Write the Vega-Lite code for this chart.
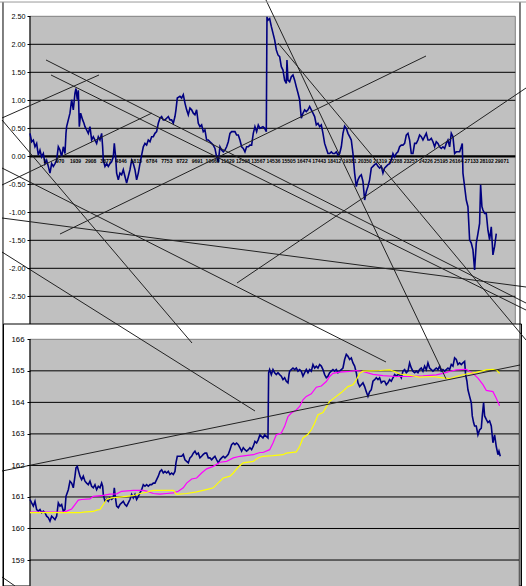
{
  "$schema": "https://vega.github.io/schema/vega-lite/v6.json",
  "width": 496,
  "height": 586,
  "autosize": {"type": "none"},
  "padding": {"left": 30, "top": 0, "right": 0, "bottom": 0},
  "background": "white",
  "config": {
    "view": {"stroke": null},
    "locale": {"number": {"decimal": ".", "thousands": ",", "grouping": [3], "currency": ["$", ""], "minus": "-"}},
    "axis": {"labelFont": "Liberation Sans"}
  },
  "datasets": {
    "top": [
{"i":1,"v":0.41},{"i":106,"v":0.26},{"i":212,"v":0.29},{"i":318,"v":0.17},{"i":424,"v":0.23},{"i":530,"v":0.02},{"i":636,"v":0.11},{"i":742,"v":-0.01},{"i":848,"v":0.05},{"i":954,"v":-0.13},{"i":1060,"v":-0.07},{"i":1166,"v":-0.18},{"i":1272,"v":-0.3},{"i":1378,"v":-0.13},{"i":1484,"v":-0.18},{"i":1590,"v":-0.13},{"i":1696,"v":-0.07},{"i":1802,"v":0.17},{"i":1908,"v":0.11},{"i":2014,"v":-0.01},{"i":2120,"v":0.17},{"i":2226,"v":0.05},{"i":2290,"v":0.41},{"i":2332,"v":0.53},{"i":2438,"v":0.65},{"i":2544,"v":0.77},{"i":2650,"v":1.01},{"i":2756,"v":0.83},{"i":2862,"v":1.13},{"i":2926,"v":1.21},{"i":3010,"v":1.01},{"i":3074,"v":1.18},{"i":3138,"v":0.53},{"i":3222,"v":0.77},{"i":3350,"v":0.65},{"i":3434,"v":0.59},{"i":3498,"v":0.53},{"i":3604,"v":0.47},{"i":3710,"v":0.41},{"i":3816,"v":0.53},{"i":3922,"v":0.29},{"i":4028,"v":0.35},{"i":4134,"v":0.29},{"i":4240,"v":0.23},{"i":4346,"v":0.35},{"i":4452,"v":0.29},{"i":4558,"v":0.41},{"i":4622,"v":0.17},{"i":4664,"v":-0.07},{"i":4770,"v":-0.18},{"i":4876,"v":-0.13},{"i":4982,"v":-0.18},{"i":5088,"v":-0.13},{"i":5194,"v":-0.1},{"i":5300,"v":-0.01},{"i":5364,"v":0.23},{"i":5448,"v":-0.01},{"i":5512,"v":-0.3},{"i":5618,"v":-0.42},{"i":5724,"v":-0.3},{"i":5830,"v":-0.33},{"i":5936,"v":-0.24},{"i":6042,"v":-0.36},{"i":6148,"v":-0.48},{"i":6254,"v":-0.36},{"i":6360,"v":-0.24},{"i":6466,"v":-0.07},{"i":6572,"v":-0.13},{"i":6678,"v":-0.24},{"i":6784,"v":-0.42},{"i":6890,"v":-0.3},{"i":6996,"v":-0.13},{"i":7102,"v":0.02},{"i":7208,"v":0.17},{"i":7314,"v":0.23},{"i":7420,"v":0.2},{"i":7526,"v":0.29},{"i":7632,"v":0.26},{"i":7738,"v":0.35},{"i":7844,"v":0.35},{"i":7950,"v":0.41},{"i":8056,"v":0.44},{"i":8162,"v":0.59},{"i":8268,"v":0.68},{"i":8374,"v":0.71},{"i":8480,"v":0.65},{"i":8586,"v":0.65},{"i":8692,"v":0.68},{"i":8798,"v":0.71},{"i":8904,"v":0.65},{"i":9010,"v":0.65},{"i":9116,"v":0.59},{"i":9222,"v":0.71},{"i":9286,"v":0.83},{"i":9370,"v":1.04},{"i":9540,"v":1.07},{"i":9646,"v":1.04},{"i":9752,"v":1.1},{"i":9858,"v":0.95},{"i":9964,"v":0.83},{"i":10070,"v":0.74},{"i":10176,"v":0.86},{"i":10282,"v":0.83},{"i":10388,"v":0.77},{"i":10494,"v":0.74},{"i":10600,"v":0.83},{"i":10706,"v":0.59},{"i":10812,"v":0.53},{"i":10918,"v":0.56},{"i":11024,"v":0.44},{"i":11130,"v":0.47},{"i":11236,"v":0.29},{"i":11342,"v":0.29},{"i":11448,"v":0.26},{"i":11554,"v":0.23},{"i":11660,"v":0.2},{"i":11766,"v":0.14},{"i":11872,"v":-0.01},{"i":11978,"v":-0.1},{"i":12084,"v":0.17},{"i":12190,"v":0.11},{"i":12296,"v":0.08},{"i":12402,"v":0.11},{"i":12508,"v":0.17},{"i":12614,"v":0.26},{"i":12720,"v":0.41},{"i":12826,"v":0.44},{"i":12932,"v":0.44},{"i":13038,"v":0.44},{"i":13144,"v":0.38},{"i":13250,"v":0.38},{"i":13356,"v":0.29},{"i":13462,"v":0.17},{"i":13568,"v":0.14},{"i":13674,"v":0.08},{"i":13780,"v":0.17},{"i":13886,"v":0.17},{"i":13992,"v":0.2},{"i":14098,"v":0.2},{"i":14204,"v":0.41},{"i":14310,"v":0.53},{"i":14416,"v":0.44},{"i":14522,"v":0.56},{"i":14628,"v":0.5},{"i":14819,"v":0.53},{"i":14927,"v":0.5},{"i":15033,"v":0.44},{"i":15075,"v":2.49},{"i":15139,"v":2.43},{"i":15245,"v":2.46},{"i":15351,"v":2.32},{"i":15457,"v":2.2},{"i":15563,"v":2.08},{"i":15669,"v":1.9},{"i":15775,"v":1.81},{"i":15881,"v":1.78},{"i":15987,"v":1.6},{"i":16093,"v":1.54},{"i":16199,"v":1.36},{"i":16305,"v":1.3},{"i":16347,"v":1.72},{"i":16411,"v":1.36},{"i":16517,"v":1.33},{"i":16623,"v":1.42},{"i":16729,"v":1.45},{"i":16835,"v":1.36},{"i":16941,"v":1.24},{"i":17047,"v":1.13},{"i":17153,"v":1.01},{"i":17259,"v":0.68},{"i":17365,"v":0.77},{"i":17471,"v":0.83},{"i":17577,"v":0.8},{"i":17683,"v":0.83},{"i":17789,"v":0.89},{"i":17895,"v":0.83},{"i":18001,"v":0.77},{"i":18107,"v":0.71},{"i":18213,"v":0.56},{"i":18319,"v":0.59},{"i":18425,"v":0.53},{"i":18531,"v":0.56},{"i":18637,"v":0.41},{"i":18743,"v":0.23},{"i":18849,"v":0.14},{"i":18955,"v":0.05},{"i":19061,"v":0.05},{"i":19167,"v":0.08},{"i":19273,"v":0.05},{"i":19379,"v":0.05},{"i":19485,"v":0.08},{"i":19591,"v":0.02},{"i":19697,"v":0.05},{"i":19803,"v":0.17},{"i":19909,"v":0.41},{"i":20015,"v":0.54},{"i":20121,"v":0.5},{"i":20227,"v":0.41},{"i":20333,"v":0.35},{"i":20439,"v":0.29},{"i":20545,"v":0.05},{"i":20651,"v":-0.3},{"i":20757,"v":-0.54},{"i":20863,"v":-0.42},{"i":20969,"v":-0.36},{"i":21075,"v":-0.33},{"i":21181,"v":-0.45},{"i":21287,"v":-0.78},{"i":21393,"v":-0.63},{"i":21499,"v":-0.54},{"i":21605,"v":-0.42},{"i":21711,"v":-0.21},{"i":21817,"v":-0.18},{"i":21923,"v":-0.15},{"i":22029,"v":-0.13},{"i":22135,"v":-0.18},{"i":22241,"v":-0.21},{"i":22347,"v":-0.18},{"i":22453,"v":-0.3},{"i":22559,"v":-0.21},{"i":22665,"v":-0.18},{"i":22771,"v":-0.15},{"i":22877,"v":-0.13},{"i":22983,"v":-0.07},{"i":23089,"v":0.05},{"i":23195,"v":-0.01},{"i":23301,"v":0.05},{"i":23407,"v":0.08},{"i":23513,"v":0.17},{"i":23619,"v":0.2},{"i":23725,"v":0.2},{"i":23831,"v":0.23},{"i":23937,"v":0.38},{"i":24043,"v":0.41},{"i":24149,"v":0.29},{"i":24255,"v":0.05},{"i":24361,"v":0.05},{"i":24467,"v":0.23},{"i":24573,"v":0.23},{"i":24679,"v":0.29},{"i":24785,"v":0.38},{"i":24891,"v":0.35},{"i":24997,"v":0.29},{"i":25103,"v":0.35},{"i":25209,"v":0.41},{"i":25315,"v":0.29},{"i":25421,"v":0.29},{"i":25527,"v":0.32},{"i":25633,"v":0.26},{"i":25739,"v":0.17},{"i":25845,"v":0.26},{"i":25951,"v":0.23},{"i":26057,"v":0.17},{"i":26163,"v":0.14},{"i":26269,"v":0.17},{"i":26375,"v":0.14},{"i":26481,"v":0.23},{"i":26587,"v":0.29},{"i":26693,"v":0.17},{"i":26799,"v":0.41},{"i":26905,"v":0.35},{"i":27011,"v":0.05},{"i":27117,"v":0.08},{"i":27223,"v":0.08},{"i":27329,"v":0.08},{"i":27435,"v":0.17},{"i":27499,"v":0.23},{"i":27541,"v":-0.3},{"i":27647,"v":-0.54},{"i":27753,"v":-0.78},{"i":27859,"v":-0.9},{"i":27965,"v":-1.49},{"i":28071,"v":-1.55},{"i":28177,"v":-1.67},{"i":28283,"v":-2.03},{"i":28389,"v":-1.55},{"i":28495,"v":-1.38},{"i":28601,"v":-1.2},{"i":28665,"v":-0.51},{"i":28749,"v":-0.9},{"i":28813,"v":-0.96},{"i":28919,"v":-1.02},{"i":29025,"v":-1.02},{"i":29131,"v":-1.32},{"i":29237,"v":-1.49},{"i":29343,"v":-1.26},{"i":29449,"v":-1.76},{"i":29555,"v":-1.61},{"i":29661,"v":-1.38}
    ],
    "bot": [
{"i":1,"v":160.92},{"i":106,"v":160.81},{"i":212,"v":160.71},{"i":318,"v":160.86},{"i":424,"v":160.6},{"i":530,"v":160.55},{"i":636,"v":160.6},{"i":742,"v":160.5},{"i":848,"v":160.55},{"i":954,"v":160.5},{"i":1060,"v":160.39},{"i":1166,"v":160.34},{"i":1272,"v":160.23},{"i":1378,"v":160.39},{"i":1484,"v":160.34},{"i":1590,"v":160.28},{"i":1696,"v":160.39},{"i":1802,"v":160.81},{"i":1908,"v":160.71},{"i":2014,"v":160.76},{"i":2120,"v":160.55},{"i":2226,"v":160.6},{"i":2290,"v":161.02},{"i":2332,"v":161.08},{"i":2438,"v":161.23},{"i":2544,"v":161.5},{"i":2650,"v":161.44},{"i":2756,"v":161.29},{"i":2862,"v":161.66},{"i":2926,"v":161.92},{"i":3010,"v":161.97},{"i":3095,"v":161.81},{"i":3180,"v":161.66},{"i":3286,"v":161.55},{"i":3392,"v":161.66},{"i":3498,"v":161.5},{"i":3604,"v":161.44},{"i":3710,"v":161.39},{"i":3816,"v":161.5},{"i":3922,"v":161.34},{"i":4028,"v":161.29},{"i":4134,"v":161.39},{"i":4240,"v":161.23},{"i":4346,"v":161.34},{"i":4452,"v":161.29},{"i":4558,"v":161.44},{"i":4622,"v":161.34},{"i":4664,"v":161.08},{"i":4770,"v":160.86},{"i":4876,"v":160.92},{"i":4982,"v":160.86},{"i":5088,"v":160.97},{"i":5194,"v":160.92},{"i":5300,"v":160.97},{"i":5364,"v":161.29},{"i":5448,"v":160.92},{"i":5512,"v":160.71},{"i":5618,"v":160.66},{"i":5724,"v":160.76},{"i":5830,"v":160.81},{"i":5936,"v":160.86},{"i":6042,"v":160.76},{"i":6148,"v":160.71},{"i":6254,"v":160.81},{"i":6360,"v":160.92},{"i":6466,"v":161.08},{"i":6572,"v":160.97},{"i":6678,"v":161.08},{"i":6784,"v":160.92},{"i":6890,"v":161.02},{"i":6996,"v":161.13},{"i":7102,"v":161.23},{"i":7208,"v":161.39},{"i":7314,"v":161.34},{"i":7420,"v":161.39},{"i":7526,"v":161.34},{"i":7632,"v":161.39},{"i":7738,"v":161.39},{"i":7844,"v":161.44},{"i":7950,"v":161.44},{"i":8056,"v":161.55},{"i":8162,"v":161.66},{"i":8268,"v":161.81},{"i":8374,"v":161.86},{"i":8480,"v":161.76},{"i":8586,"v":161.81},{"i":8692,"v":161.76},{"i":8798,"v":161.81},{"i":8904,"v":161.71},{"i":9010,"v":161.76},{"i":9116,"v":161.71},{"i":9222,"v":161.81},{"i":9286,"v":162.08},{"i":9370,"v":162.29},{"i":9540,"v":162.29},{"i":9646,"v":162.29},{"i":9752,"v":162.35},{"i":9858,"v":162.18},{"i":9964,"v":162.13},{"i":10070,"v":162.08},{"i":10176,"v":162.24},{"i":10282,"v":162.29},{"i":10388,"v":162.39},{"i":10494,"v":162.45},{"i":10600,"v":162.35},{"i":10706,"v":162.39},{"i":10812,"v":162.24},{"i":10918,"v":162.29},{"i":11024,"v":162.35},{"i":11130,"v":162.39},{"i":11236,"v":162.39},{"i":11342,"v":162.24},{"i":11448,"v":162.24},{"i":11554,"v":162.18},{"i":11660,"v":162.24},{"i":11766,"v":162.29},{"i":11872,"v":162.18},{"i":11978,"v":162.08},{"i":12084,"v":162.18},{"i":12190,"v":162.24},{"i":12296,"v":162.29},{"i":12402,"v":162.24},{"i":12508,"v":162.29},{"i":12614,"v":162.35},{"i":12720,"v":162.5},{"i":12826,"v":162.66},{"i":12932,"v":162.71},{"i":13038,"v":162.66},{"i":13144,"v":162.71},{"i":13250,"v":162.66},{"i":13356,"v":162.56},{"i":13462,"v":162.45},{"i":13568,"v":162.56},{"i":13674,"v":162.5},{"i":13780,"v":162.45},{"i":13886,"v":162.5},{"i":13992,"v":162.56},{"i":14098,"v":162.5},{"i":14204,"v":162.61},{"i":14310,"v":162.76},{"i":14416,"v":162.71},{"i":14522,"v":162.82},{"i":14628,"v":162.97},{"i":14819,"v":162.87},{"i":14927,"v":162.97},{"i":15033,"v":162.92},{"i":15139,"v":162.87},{"i":15181,"v":164.94},{"i":15245,"v":165.04},{"i":15351,"v":164.88},{"i":15457,"v":165.04},{"i":15563,"v":164.94},{"i":15669,"v":164.88},{"i":15775,"v":164.94},{"i":15881,"v":164.88},{"i":15987,"v":164.83},{"i":16093,"v":164.72},{"i":16199,"v":164.78},{"i":16305,"v":164.67},{"i":16411,"v":164.62},{"i":16475,"v":164.88},{"i":16517,"v":164.99},{"i":16623,"v":165.04},{"i":16729,"v":165.09},{"i":16835,"v":165.04},{"i":16941,"v":165.09},{"i":17047,"v":164.99},{"i":17153,"v":165.04},{"i":17259,"v":164.99},{"i":17365,"v":164.83},{"i":17471,"v":164.94},{"i":17577,"v":165.04},{"i":17683,"v":164.94},{"i":17789,"v":165.04},{"i":17895,"v":164.99},{"i":18001,"v":165.2},{"i":18107,"v":165.09},{"i":18213,"v":165.15},{"i":18319,"v":165.09},{"i":18425,"v":165.2},{"i":18531,"v":165.15},{"i":18637,"v":165.04},{"i":18743,"v":164.88},{"i":18849,"v":164.78},{"i":18955,"v":164.83},{"i":19061,"v":164.94},{"i":19167,"v":164.99},{"i":19273,"v":165.04},{"i":19379,"v":164.99},{"i":19485,"v":165.04},{"i":19591,"v":164.94},{"i":19697,"v":164.99},{"i":19803,"v":165.04},{"i":19909,"v":165.09},{"i":20015,"v":165.36},{"i":20121,"v":165.52},{"i":20227,"v":165.46},{"i":20333,"v":165.36},{"i":20439,"v":165.41},{"i":20545,"v":165.25},{"i":20651,"v":165.15},{"i":20757,"v":164.94},{"i":20863,"v":164.62},{"i":20969,"v":164.5},{"i":21075,"v":164.56},{"i":21181,"v":164.62},{"i":21287,"v":164.5},{"i":21393,"v":164.34},{"i":21499,"v":164.19},{"i":21605,"v":164.34},{"i":21711,"v":164.4},{"i":21817,"v":164.67},{"i":21923,"v":164.72},{"i":22029,"v":164.78},{"i":22135,"v":164.72},{"i":22241,"v":164.78},{"i":22347,"v":164.62},{"i":22453,"v":164.67},{"i":22559,"v":164.67},{"i":22665,"v":164.56},{"i":22771,"v":164.62},{"i":22877,"v":164.72},{"i":22983,"v":164.67},{"i":23089,"v":164.78},{"i":23195,"v":164.88},{"i":23301,"v":164.83},{"i":23407,"v":164.88},{"i":23513,"v":164.88},{"i":23619,"v":164.78},{"i":23725,"v":164.99},{"i":23831,"v":165.04},{"i":23937,"v":164.94},{"i":24043,"v":164.99},{"i":24149,"v":165.25},{"i":24255,"v":165.09},{"i":24361,"v":164.99},{"i":24467,"v":164.94},{"i":24573,"v":164.99},{"i":24679,"v":164.94},{"i":24785,"v":165.04},{"i":24891,"v":165.09},{"i":24997,"v":164.99},{"i":25103,"v":165.15},{"i":25209,"v":165.04},{"i":25315,"v":165.25},{"i":25421,"v":165.09},{"i":25527,"v":165.04},{"i":25633,"v":164.99},{"i":25739,"v":165.04},{"i":25845,"v":165.09},{"i":25951,"v":165.04},{"i":26057,"v":165.15},{"i":26163,"v":164.99},{"i":26269,"v":165.04},{"i":26375,"v":164.99},{"i":26481,"v":165.04},{"i":26587,"v":165.09},{"i":26693,"v":165.04},{"i":26799,"v":165.2},{"i":26905,"v":165.15},{"i":27011,"v":165.41},{"i":27117,"v":165.36},{"i":27223,"v":165.2},{"i":27329,"v":165.25},{"i":27435,"v":165.2},{"i":27541,"v":165.25},{"i":27647,"v":165.3},{"i":27711,"v":164.88},{"i":27795,"v":164.67},{"i":27859,"v":164.4},{"i":27965,"v":164.19},{"i":28071,"v":163.99},{"i":28135,"v":163.57},{"i":28219,"v":163.36},{"i":28283,"v":163.25},{"i":28389,"v":163.25},{"i":28495,"v":162.97},{"i":28601,"v":163.13},{"i":28707,"v":163.18},{"i":28771,"v":163.57},{"i":28855,"v":163.99},{"i":28919,"v":163.57},{"i":29025,"v":163.46},{"i":29131,"v":163.36},{"i":29237,"v":163.41},{"i":29343,"v":163.25},{"i":29449,"v":162.72},{"i":29555,"v":162.97},{"i":29661,"v":162.6},{"i":29767,"v":162.34},{"i":29831,"v":162.45},{"i":29915,"v":162.29}
    ],
    "mag": [
{"i":1,"v":160.52},{"i":2120,"v":160.52},{"i":2332,"v":160.55},{"i":2650,"v":160.62},{"i":2862,"v":160.76},{"i":3074,"v":160.9},{"i":3286,"v":160.92},{"i":3816,"v":160.94},{"i":4028,"v":161.02},{"i":4664,"v":161.05},{"i":5088,"v":161.09},{"i":5512,"v":161.1},{"i":5830,"v":161.18},{"i":6572,"v":161.21},{"i":7208,"v":161.21},{"i":7526,"v":161.17},{"i":7844,"v":161.11},{"i":8268,"v":161.09},{"i":8692,"v":161.11},{"i":9116,"v":161.13},{"i":9434,"v":161.18},{"i":9752,"v":161.29},{"i":9964,"v":161.44},{"i":10282,"v":161.57},{"i":10600,"v":161.6},{"i":10918,"v":161.76},{"i":11236,"v":161.89},{"i":11660,"v":161.97},{"i":12084,"v":162.1},{"i":12508,"v":162.13},{"i":12932,"v":162.24},{"i":13356,"v":162.29},{"i":14204,"v":162.34},{"i":14628,"v":162.41},{"i":14821,"v":162.41},{"i":15245,"v":162.5},{"i":15457,"v":162.71},{"i":15669,"v":162.97},{"i":15987,"v":163.03},{"i":16199,"v":163.24},{"i":16411,"v":163.55},{"i":16623,"v":163.66},{"i":16941,"v":163.76},{"i":17153,"v":163.87},{"i":17365,"v":164.08},{"i":17577,"v":164.19},{"i":17895,"v":164.27},{"i":18213,"v":164.48},{"i":18531,"v":164.52},{"i":18849,"v":164.66},{"i":19061,"v":164.82},{"i":19273,"v":164.92},{"i":19697,"v":164.96},{"i":20333,"v":164.98},{"i":20757,"v":165.01},{"i":21181,"v":164.98},{"i":21817,"v":164.89},{"i":22453,"v":164.85},{"i":23301,"v":164.82},{"i":24149,"v":164.82},{"i":24997,"v":164.84},{"i":25845,"v":164.87},{"i":26269,"v":164.92},{"i":26693,"v":164.98},{"i":27117,"v":165.03},{"i":27753,"v":165.05},{"i":28177,"v":164.92},{"i":28495,"v":164.77},{"i":28813,"v":164.56},{"i":29025,"v":164.38},{"i":29449,"v":164.34},{"i":29661,"v":164.13},{"i":29873,"v":163.89}
    ],
    "yel": [
{"i":1,"v":160.5},{"i":3180,"v":160.5},{"i":3392,"v":160.52},{"i":4028,"v":160.54},{"i":4240,"v":160.58},{"i":4452,"v":160.6},{"i":4664,"v":160.76},{"i":4876,"v":160.92},{"i":5194,"v":160.97},{"i":5830,"v":161.0},{"i":6572,"v":161.04},{"i":6996,"v":161.11},{"i":7420,"v":161.15},{"i":7844,"v":161.21},{"i":9116,"v":161.21},{"i":9328,"v":161.08},{"i":9964,"v":161.11},{"i":10600,"v":161.16},{"i":11342,"v":161.25},{"i":11660,"v":161.29},{"i":12084,"v":161.5},{"i":12296,"v":161.6},{"i":12720,"v":161.66},{"i":12932,"v":161.76},{"i":13250,"v":161.95},{"i":13568,"v":162.08},{"i":14204,"v":162.13},{"i":14522,"v":162.24},{"i":14819,"v":162.29},{"i":15457,"v":162.31},{"i":16093,"v":162.34},{"i":16305,"v":162.39},{"i":16941,"v":162.43},{"i":17153,"v":162.6},{"i":17365,"v":162.87},{"i":17683,"v":162.99},{"i":17895,"v":163.13},{"i":18107,"v":163.34},{"i":18319,"v":163.61},{"i":18637,"v":163.68},{"i":19061,"v":164.03},{"i":19379,"v":164.15},{"i":19803,"v":164.31},{"i":20227,"v":164.5},{"i":20545,"v":164.56},{"i":20757,"v":164.71},{"i":20969,"v":164.92},{"i":21181,"v":164.99},{"i":22241,"v":165.01},{"i":22877,"v":165.03},{"i":23195,"v":164.98},{"i":23513,"v":164.9},{"i":24149,"v":164.86},{"i":24785,"v":164.8},{"i":25633,"v":164.82},{"i":26375,"v":164.77},{"i":26693,"v":164.75},{"i":27117,"v":164.82},{"i":27753,"v":164.9},{"i":28389,"v":164.95},{"i":29025,"v":165.03},{"i":29449,"v":165.05},{"i":29661,"v":165.03},{"i":29873,"v":164.92}
    ],
    "cats": [
{"c":1},{"c":970},{"c":1939},{"c":2908},{"c":3877},{"c":4846},{"c":5815},{"c":6784},{"c":7753},{"c":8722},{"c":9691},{"c":10660},{"c":11629},{"c":12598},{"c":13567},{"c":14536},{"c":15505},{"c":16474},{"c":17443},{"c":18412},{"c":19381},{"c":20350},{"c":21319},{"c":22288},{"c":23257},{"c":24226},{"c":25195},{"c":26164},{"c":27133},{"c":28102},{"c":29071}
    ],
    "trend": [
{"x1":-1780,"y1":0.684,"x2":4390,"y2":1.452},
{"x1":1019,"y1":1.72,"x2":31552,"y2":-2.62},
{"x1":1337,"y1":1.452,"x2":31552,"y2":-2.745},
{"x1":-1780,"y1":0.648,"x2":10306,"y2":-3.334},
{"x1":-1780,"y1":-0.209,"x2":22646,"y2":-3.673},
{"x1":-1780,"y1":-1.102,"x2":31552,"y2":-2.334},
{"x1":-1780,"y1":-1.709,"x2":14313,"y2":-4.548},
{"x1":1909,"y1":-1.388,"x2":25191,"y2":1.791},
{"x1":-1780,"y1":-0.5125,"x2":7761,"y2":0.773},
{"x1":13168,"y1":-2.2625,"x2":31552,"y2":1.2196},
{"x1":15013,"y1":2.791,"x2":26463,"y2":-3.973},
{"x1":15776,"y1":2.023,"x2":31552,"y2":-3.28},
{"x1":-1780,"y1":-5.62,"x2":31170,"y2":-3.727},
{"x1":-1780,"y1":-7.513,"x2":-953,"y2":-7.673}
    ]
  },
  "layer": [
    {
      "layer": [
        {
          "data": {"values": [{"a": 1, "b": 30871, "lo": -3, "hi": 2.5}]},
          "mark": {"type": "rect", "fill": "#C0C0C0", "stroke": "#808080", "strokeWidth": 1},
          "encoding": {
            "x": {"field": "a", "type": "quantitative", "scale": {"domain": [1, 31552], "nice": false, "zero": false}},
            "x2": {"field": "b"},
            "y": {"field": "lo", "type": "quantitative", "scale": {"domain": [-7.6732, 2.7911], "nice": false, "zero": false}},
            "y2": {"field": "hi"}
          }
        },
        {
          "data": {"values": [{"g": 2.0}, {"g": 1.5}, {"g": 1.0}, {"g": 0.5}, {"g": -0.5}, {"g": -1.0}, {"g": -1.5}, {"g": -2.0}, {"g": -2.5}]},
          "mark": {"type": "rule", "color": "black", "strokeWidth": 1},
          "encoding": {
            "x": {"datum": 1, "type": "quantitative", "scale": {"domain": [1, 31552], "nice": false, "zero": false}},
            "x2": {"datum": 30871},
            "y": {"field": "g", "type": "quantitative", "scale": {"domain": [-7.6732, 2.7911], "nice": false, "zero": false}}
          }
        },
        {
          "data": {"values": [{"g": 0}]},
          "mark": {"type": "rule", "color": "black", "strokeWidth": 2.2},
          "encoding": {
            "x": {"datum": 1, "type": "quantitative", "scale": {"domain": [1, 31552], "nice": false, "zero": false}},
            "x2": {"datum": 30871},
            "y": {"field": "g", "type": "quantitative", "scale": {"domain": [-7.6732, 2.7911], "nice": false, "zero": false}}
          }
        },
        {
          "data": {"values": [{"a": 1}]},
          "mark": {"type": "rule", "color": "black", "strokeWidth": 1},
          "encoding": {
            "x": {"field": "a", "type": "quantitative", "scale": {"domain": [1, 31552], "nice": false, "zero": false}},
            "y": {"datum": -3, "type": "quantitative", "scale": {"domain": [-7.6732, 2.7911], "nice": false, "zero": false}},
            "y2": {"datum": 2.5}
          }
        },
        {
          "data": {"name": "top"},
          "mark": {"type": "line", "color": "#000080", "strokeWidth": 1.6},
          "encoding": {
            "x": {"field": "i", "type": "quantitative", "scale": {"domain": [1, 31552], "nice": false, "zero": false},
              "axis": {"orient": "bottom", "labels": false, "ticks": false, "domain": false, "grid": false, "title": null}},
            "y": {"field": "v", "type": "quantitative", "scale": {"domain": [-7.6732, 2.7911], "nice": false, "zero": false},
              "axis": {"orient": "left", "zindex": 1, "values": [-2.5,-2,-1.5,-1,-0.5,0,0.5,1,1.5,2,2.5], "format": ".2f", "domain": false, "grid": false, "ticks": true, "tickSize": 3, "tickColor": "black", "labelFontSize": 7.2, "labelColor": "black", "labelPadding": 2, "title": null, "labelOverlap": false, "labelFlush": false}}
          }
        },
        {
          "data": {"name": "cats"},
          "mark": {"type": "text", "font": "Liberation Sans", "fontSize": 5, "fontWeight": "bold", "color": "black", "align": "center", "baseline": "top", "dx": 15, "dy": 3},
          "encoding": {
            "x": {"field": "c", "type": "quantitative", "scale": {"domain": [1, 31552], "nice": false, "zero": false}},
            "y": {"datum": 0, "type": "quantitative", "scale": {"domain": [-7.6732, 2.7911], "nice": false, "zero": false}},
            "text": {"field": "c", "type": "quantitative", "format": "d"}
          }
        }
      ]
    },
    {
      "layer": [
        {
          "data": {"values": [{"a": -1685, "b": 31265, "lo": 158.176, "hi": 166.485}]},
          "mark": {"type": "rect", "fill": "white", "stroke": "black", "strokeWidth": 1},
          "encoding": {
            "x": {"field": "a", "type": "quantitative", "scale": {"domain": [1, 31552], "nice": false, "zero": false}},
            "x2": {"field": "b"},
            "y": {"field": "lo", "type": "quantitative", "scale": {"domain": [158.176, 176.761], "nice": false, "zero": false}},
            "y2": {"field": "hi"}
          }
        },
        {
          "data": {"values": [{"a": 1, "b": 31106, "lo": 158.1, "hi": 166}]},
          "mark": {"type": "rect", "fill": "#C0C0C0", "stroke": "#808080", "strokeWidth": 1},
          "encoding": {
            "x": {"field": "a", "type": "quantitative", "scale": {"domain": [1, 31552], "nice": false, "zero": false}},
            "x2": {"field": "b"},
            "y": {"field": "lo", "type": "quantitative", "scale": {"domain": [158.176, 176.761], "nice": false, "zero": false}},
            "y2": {"field": "hi"}
          }
        },
        {
          "data": {"values": [{"g": 165}, {"g": 164}, {"g": 163}, {"g": 162}, {"g": 161}, {"g": 160}, {"g": 159}]},
          "mark": {"type": "rule", "color": "black", "strokeWidth": 1},
          "encoding": {
            "x": {"datum": 1, "type": "quantitative", "scale": {"domain": [1, 31552], "nice": false, "zero": false}},
            "x2": {"datum": 31106},
            "y": {"field": "g", "type": "quantitative", "scale": {"domain": [158.176, 176.761], "nice": false, "zero": false}}
          }
        },
        {
          "data": {"values": [{"a": 1}]},
          "mark": {"type": "rule", "color": "black", "strokeWidth": 1},
          "encoding": {
            "x": {"field": "a", "type": "quantitative", "scale": {"domain": [1, 31552], "nice": false, "zero": false}},
            "y": {"datum": 158.1, "type": "quantitative", "scale": {"domain": [158.176, 176.761], "nice": false, "zero": false}},
            "y2": {"datum": 166}
          }
        },
        {
          "data": {"name": "bot"},
          "mark": {"type": "line", "color": "#000080", "strokeWidth": 1.6},
          "encoding": {
            "x": {"field": "i", "type": "quantitative", "scale": {"domain": [1, 31552], "nice": false, "zero": false}},
            "y": {"field": "v", "type": "quantitative", "scale": {"domain": [158.176, 176.761], "nice": false, "zero": false},
              "axis": {"orient": "left", "zindex": 1, "values": [159,160,161,162,163,164,165,166], "format": "d", "domain": false, "grid": false, "ticks": true, "tickSize": 3, "tickColor": "black", "labelFontSize": 7.8, "labelColor": "black", "labelPadding": 3, "title": null, "labelOverlap": false, "labelFlush": false}}
          }
        },
        {
          "data": {"name": "mag"},
          "mark": {"type": "line", "color": "#FF00FF", "strokeWidth": 1.2},
          "encoding": {
            "x": {"field": "i", "type": "quantitative", "scale": {"domain": [1, 31552], "nice": false, "zero": false}},
            "y": {"field": "v", "type": "quantitative", "scale": {"domain": [158.176, 176.761], "nice": false, "zero": false}}
          }
        },
        {
          "data": {"name": "yel"},
          "mark": {"type": "line", "color": "#FFFF00", "strokeWidth": 1.2},
          "encoding": {
            "x": {"field": "i", "type": "quantitative", "scale": {"domain": [1, 31552], "nice": false, "zero": false}},
            "y": {"field": "v", "type": "quantitative", "scale": {"domain": [158.176, 176.761], "nice": false, "zero": false}}
          }
        }
      ]
    },
    {
      "layer": [
        {
          "data": {"name": "trend"},
          "mark": {"type": "rule", "color": "#222222", "strokeWidth": 1},
          "encoding": {
            "x": {"field": "x1", "type": "quantitative", "scale": {"domain": [1, 31552], "nice": false, "zero": false}},
            "x2": {"field": "x2"},
            "y": {"field": "y1", "type": "quantitative", "scale": {"domain": [-7.6732, 2.7911], "nice": false, "zero": false}, "axis": null},
            "y2": {"field": "y2"}
          }
        },
        {
          "data": {"values": [{"a": -1717}, {"a": 31170}]},
          "mark": {"type": "rule", "color": "black", "strokeWidth": 1},
          "encoding": {
            "x": {"field": "a", "type": "quantitative", "scale": {"domain": [1, 31552], "nice": false, "zero": false}},
            "y": {"datum": -7.6732, "type": "quantitative", "scale": {"domain": [-7.6732, 2.7911], "nice": false, "zero": false}, "axis": null},
            "y2": {"datum": 2.755}
          }
        },
        {
          "data": {"values": [{"g": 2.755}]},
          "mark": {"type": "rule", "color": "#999999", "strokeWidth": 1},
          "encoding": {
            "x": {"datum": -1907, "type": "quantitative", "scale": {"domain": [1, 31552], "nice": false, "zero": false}},
            "x2": {"datum": 31552},
            "y": {"field": "g", "type": "quantitative", "scale": {"domain": [-7.6732, 2.7911], "nice": false, "zero": false}, "axis": null}
          }
        }
      ]
    }
  ],
  "resolve": {"scale": {"y": "independent"}, "axis": {"y": "independent"}}
}
